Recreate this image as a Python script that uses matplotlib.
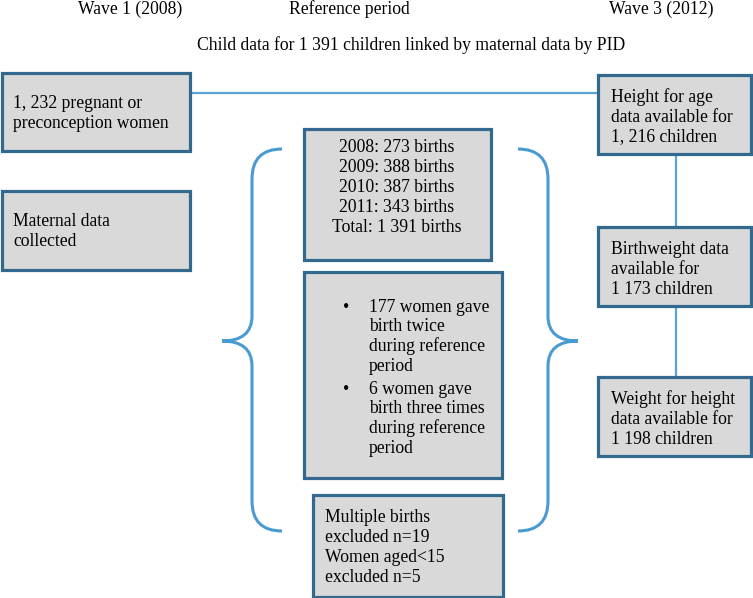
import matplotlib
matplotlib.use("Agg")
import matplotlib.pyplot as plt
from matplotlib.patches import Rectangle, PathPatch
from matplotlib.path import Path

# ---- text content ----
headers = ["Wave 1 (2008)", "Reference period", "Wave 3 (2012)"]
subtitle = "Child data for 1 391 children linked by maternal data by PID"
left_boxes = [["1, 232 pregnant or", "preconception women"],
              ["Maternal data", "collected"]]
births_years = ["2008", "2009", "2010", "2011"]
births_counts = [273, 388, 387, 343]
births_total = "1 391"
bullets = [["177 women gave", "birth twice", "during reference", "period"],
           ["6 women gave", "birth three times", "during reference", "period"]]
excluded = ["Multiple births", "excluded n=19", "Women aged<15", "excluded n=5"]
right_boxes = [["Height for age", "data available for", "1, 216 children"],
               ["Birthweight data", "available for", "1 173 children"],
               ["Weight for height", "data available for", "1 198 children"]]

FONT = "Liberation Serif"
FS = 12.7
BOX_FACE = "#d9d9d9"
BOX_EDGE = "#33698f"
LINE_C = "#5aa3d3"
BRACE_C = "#4a9bd0"

fig = plt.figure(figsize=(7.53, 5.98), dpi=100)
ax = fig.add_axes([0, 0, 1, 1])
ax.set_xlim(0, 753)
ax.set_ylim(598, 0)
ax.axis("off")

def box(x0, y0, x1, y1):
    ax.add_patch(Rectangle((x0, y0), x1 - x0, y1 - y0, facecolor=BOX_FACE,
                           edgecolor=BOX_EDGE, lw=2.3, zorder=3))

def txt(x, y, s, ha="left", fs=FS):
    ax.text(x, y, s, ha=ha, va="center", fontsize=fs, family=FONT,
            color="#000000", zorder=4)

def lines(x, y0, rows, step=20, ha="left"):
    for i, r in enumerate(rows):
        txt(x, y0 + i * step, r, ha=ha)

# headers
for x, h in zip([130, 349, 661], headers):
    txt(x, 9, h, ha="center")
txt(411, 45, subtitle, ha="center")

# connectors
ax.plot([190, 598], [93, 93], color=LINE_C, lw=1.6, zorder=1)
ax.plot([676, 676], [154, 227], color=LINE_C, lw=1.6, zorder=1)
ax.plot([676, 676], [306, 377], color=LINE_C, lw=1.6, zorder=1)

# left boxes
box(2, 73, 190, 151)
lines(13, 103, left_boxes[0])
box(2, 191, 190, 270)
lines(13, 222, left_boxes[1])

# center boxes
box(304, 129, 491, 260)
rows = [f"{y}: {c} births" for y, c in zip(births_years, births_counts)]
rows.append(f"Total: {births_total} births")
lines(397, 148, rows, ha="center")

box(304, 272, 502, 478)
for bi, (by, b) in enumerate(zip([307, 389], bullets)):
    txt(343, by, "\u2022")
    lines(369, by, b, step=19.7)

box(313, 495, 503, 597)
lines(325, 517, excluded)

# right boxes
for (y0, y1), b in zip([(75, 154), (227, 306), (377, 456)], right_boxes):
    box(598, y0, 751, y1)
    lines(611, y0 + 22, b)

# braces
def brace(xe, xv, xt, ytop, ymid, ybot, r=30, c=25):
    verts = [(xe, ytop), (xv, ytop), (xv, ytop + r),
             (xv, ymid - c),
             (xv, ymid), (xt, ymid),
             (xv, ymid), (xv, ymid + c),
             (xv, ybot - r),
             (xv, ybot), (xe, ybot)]
    codes = [Path.MOVETO, Path.CURVE3, Path.CURVE3,
             Path.LINETO,
             Path.CURVE3, Path.CURVE3,
             Path.CURVE3, Path.CURVE3,
             Path.LINETO,
             Path.CURVE3, Path.CURVE3]
    ax.add_patch(PathPatch(Path(verts, codes), facecolor="none",
                           edgecolor=BRACE_C, lw=2.2, zorder=2))

brace(282, 252, 222, 149, 341, 531)
brace(518, 548, 578, 149, 341, 531)

fig.savefig("out.png", dpi=100)
